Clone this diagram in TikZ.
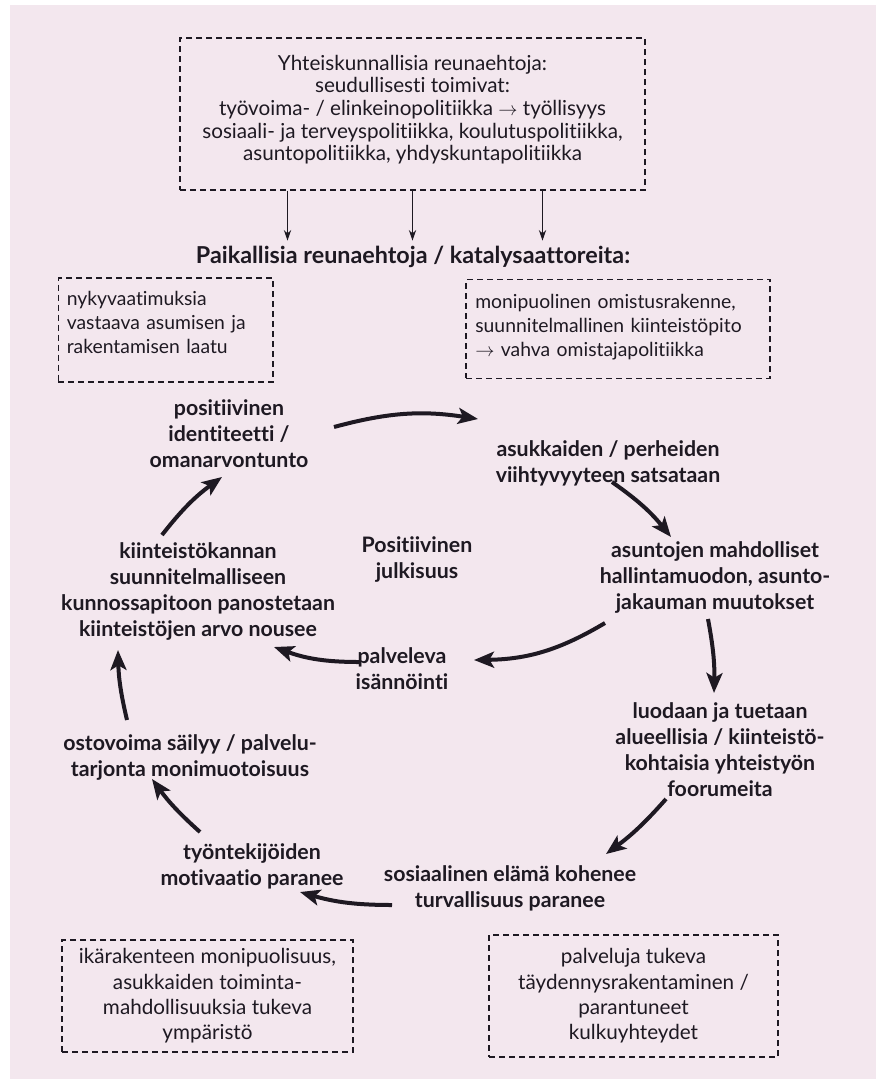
\documentclass[tikz,border=0pt]{standalone}
\usepackage{fontspec}
\setmainfont{Lato}[Ligatures={NoCommon}]
\usetikzlibrary{arrows.meta}
\definecolor{paper}{RGB}{243,231,238}
\definecolor{ink}{RGB}{30,25,34}
\begin{document}
\begin{tikzpicture}[x=0.75pt,y=-0.75pt,
  reg/.style={font=\fontsize{15.5}{18}\selectfont, text=ink, align=center, inner sep=0pt},
  side/.style={font=\fontsize{14.5}{18}\selectfont, text=ink, align=left, inner sep=0pt},
  cyc/.style={font=\bfseries\fontsize{16}{19.5}\selectfont, text=ink, align=center, inner sep=1pt},
  dbox/.style={draw=ink, dash pattern=on 4.5pt off 3pt, line width=1pt},
  big/.style={draw=ink, line width=3pt, -{Stealth[length=15pt,width=12pt,inset=3.5pt]}},
  thinarr/.style={draw=ink, line width=0.9pt, -{Stealth[length=8pt,width=5.5pt]}}]
\useasboundingbox (0,0) rectangle (876,1079);
\fill[white] (0,0) rectangle (876,1079);
\fill[paper] (10,5) rectangle (876,1079);

% top box
\node[dbox, reg, font=\fontsize{15.5}{17}\selectfont, minimum width=348.75pt, minimum height=114pt] (top) at (412.5,114)
  {Yhteiskunnallisia reunaehtoja:\\ seudullisesti toimivat:\\
   työvoima- / elinkeinopolitiikka $\rightarrow$ työllisyys\\
   sosiaali- ja terveyspolitiikka, koulutuspolitiikka,\\
   asuntopolitiikka, yhdyskuntapolitiikka\\[-8pt]\mbox{}};

\node[cyc, font=\bfseries\fontsize{17.5}{20}\selectfont] (title) at (413,257) {Paikallisia reunaehtoja / katalysaattoreita:};

\foreach \dx in {-125,0,130}
  \draw[thinarr] ([shift={(\dx,0)}]top.south) -- ([shift={(\dx,-4)}]top.south |- title.north);

% side boxes
\node[dbox, side, text width=148pt, inner xsep=6.5pt, minimum height=78pt] (lbox) at (165.5,330)
  {nykyvaatimuksia\\ vastaava asumisen ja\\ rakentamisen laatu\\[-6pt]\mbox{}};
\node[dbox, side, text width=214pt, inner xsep=7pt, minimum height=74pt] (rbox) at (618,329)
  {monipuolinen omistusrakenne,\\ suunnitelmallinen kiinteistöpito\\ $\rightarrow$ vahva omistajapolitiikka\\[-12pt]\mbox{}};

% cycle
\node[cyc] (n1) at (229,434) {positiivinen\\ identiteetti /\\ omanarvontunto};
\node[cyc] (n2) at (608,463) {asukkaiden / perheiden\\ viihtyvyyteen satsataan};
\node[cyc] (n3) at (715,577) {asuntojen mahdolliset\\ hallintamuodon, asunto-\\ jakauman muutokset};
\node[cyc] (n4) at (720,750) {luodaan ja tuetaan\\ alueellisia / kiinteistö-\\ kohtaisia yhteistyön\\ foorumeita};
\node[cyc] (n5) at (510,888) {sosiaalinen elämä kohenee\\ turvallisuus paranee};
\node[cyc] (n6) at (252,866) {työntekijöiden\\ motivaatio paranee};
\node[cyc] (n7) at (190,757) {ostovoima säilyy / palvelu-\\ tarjonta monimuotoisuus};
\node[cyc] (n8) at (198,591) {kiinteistökannan\\ suunnitelmalliseen\\ kunnossapitoon panostetaan\\ kiinteistöjen arvo nousee};
\node[cyc] (n9) at (402,669) {palveleva\\ isännöinti};
\node[cyc] (pj) at (417,560) {Positiivinen\\ julkisuus};

\draw[big] ([shift={(105,-7)}]n1.center) to[bend left=12] ([shift={(-130,-44)}]n2.center);
\draw[big] ([shift={(4,19)}]n2.center) to[bend left=8] ([shift={(-44,-40)}]n3.center);
\draw[big] ([shift={(-7,42)}]n3.center) to[bend left=6] ([shift={(-6,-57)}]n4.center);
\draw[big] ([shift={(-54,49)}]n4.center) to[bend left=6] ([shift={(96,-34)}]n5.center);
\draw[big] ([shift={(-118,17)}]n5.center) to[bend left=8] ([shift={(48,26)}]n6.center);
\draw[big] ([shift={(-52,-34)}]n6.center) to[bend left=6] ([shift={(-38,22)}]n7.center);
\draw[big] ([shift={(-63,-37)}]n7.center) to[bend left=6] ([shift={(-80,59)}]n8.center);
\draw[big] ([shift={(-36,-56)}]n8.center) to[bend left=8] ([shift={(-7,43)}]n1.center);
\draw[big] ([shift={(-110,46)}]n3.center) to[bend left=15] ([shift={(72,-9)}]n9.center);
\draw[big] ([shift={(-42,-7)}]n9.center) to[bend left=10] ([shift={(76,56)}]n8.center);

% bottom boxes
\node[dbox, reg, font=\fontsize{15.5}{19}\selectfont, minimum width=218.25pt, minimum height=84pt] (blbox) at (207.5,996)
  {ikärakenteen monipuolisuus,\\ asukkaiden toiminta-\\ mahdollisuuksia tukeva\\ ympäristö};
\node[dbox, reg, font=\fontsize{15.5}{19}\selectfont, minimum width=216.75pt, minimum height=91.5pt] (brbox) at (633.5,996)
  {palveluja tukeva\\ täydennysrakentaminen /\\ parantuneet\\ kulkuyhteydet};
\end{tikzpicture}
\end{document}
